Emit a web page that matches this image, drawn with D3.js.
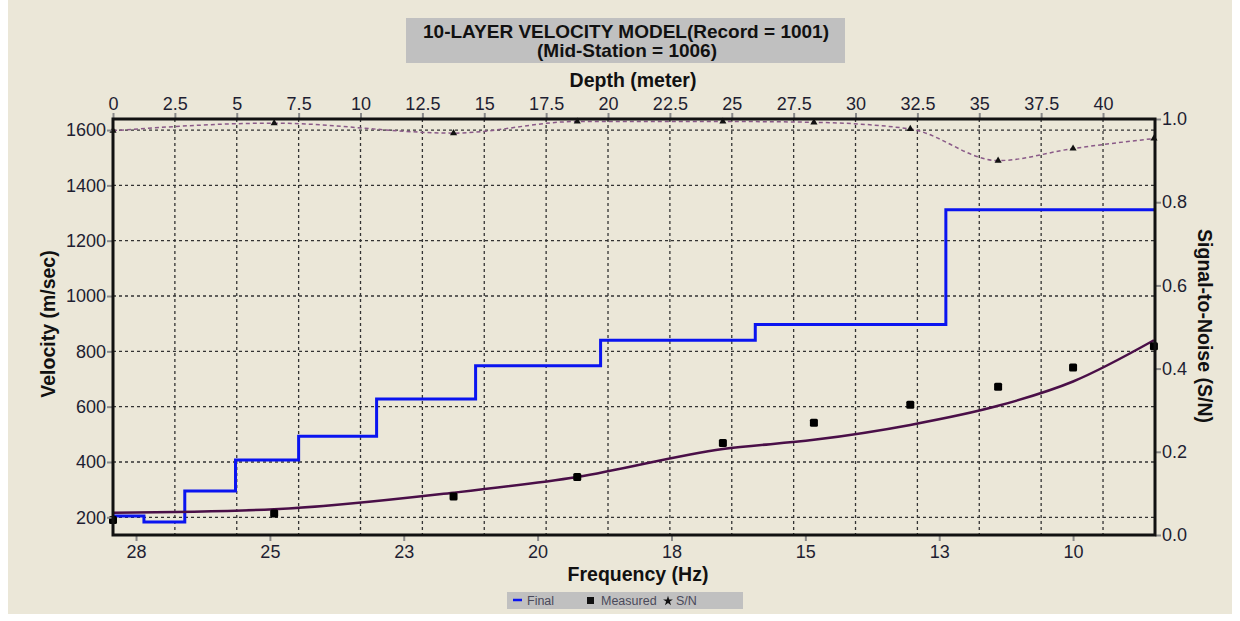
<!DOCTYPE html>
<html>
<head>
<meta charset="utf-8">
<script src="https://cdn.jsdelivr.net/npm/d3@7"></script>
<style>
  body { margin: 0; background: #ffffff; }
  svg { display: block; font-family: "Liberation Sans", Arial, sans-serif; }
</style>
</head>
<body>
<div id="chart"></div>
<script>
// layer model (top of each layer in metres, shear velocity m/s)
var layerTops = [0, 1.25, 2.9, 4.95, 7.5, 10.65, 14.65, 19.7, 25.95, 33.65];
var layerVel = [205, 183, 295, 407, 493, 628, 748, 840, 897, 1312];
var maxDepth = 42.1;

// dispersion data, frequency in Hz
var freqs = [27.93, 24.92, 21.57, 19.26, 16.54, 14.84, 13.04, 11.40, 10.00, 8.49];
var measuredVel = [190, 214, 275, 346, 469, 542, 607, 672, 742, 818];
var finalCurveVel = [216, 229, 289, 346, 447, 480, 534, 603, 691, 840];
var snValues = [0.972, 0.990, 0.966, 0.994, 0.994, 0.992, 0.976, 0.900, 0.929, 0.953];

// tick labels
var depthTicks = [0, 2.5, 5, 7.5, 10, 12.5, 15, 17.5, 20, 22.5, 25, 27.5, 30, 32.5, 35, 37.5, 40];
var freqTicks = [27.5, 25, 22.5, 20, 17.5, 15, 12.5, 10];
var freqTickLabels = ["28", "25", "23", "20", "18", "15", "13", "10"];
var velTicks = [200, 400, 600, 800, 1000, 1200, 1400, 1600];
var snTicks = [0, 0.2, 0.4, 0.6, 0.8, 1.0];

function drawChart() {
    var svgWidth = 1240, svgHeight = 621;
    var pLeft = 113, pRight = 1155, pTop = 119, pBottom = 535;

    var svg = d3.select("#chart").append("svg")
        .attr("width", svgWidth)
        .attr("height", svgHeight);

    // background panel
    svg.append("rect")
        .attr("x", 8).attr("y", 0)
        .attr("width", svgWidth - 16).attr("height", 614)
        .attr("fill", "#ebe7d8");

    // scales
    var xDepth = d3.scaleLinear().domain([0, maxDepth]).range([pLeft, pRight]);
    var xFreq = d3.scaleLinear().domain([27.93, 8.47]).range([pLeft, pRight]);
    var yVel = d3.scaleLinear().domain([136, 1640]).range([pBottom, pTop]);
    var ySN = d3.scaleLinear().domain([0, 1]).range([pBottom, pTop]);

    // grid
    var grid = svg.append("g");
    grid.selectAll("line.h")
        .data(velTicks)
        .enter().append("line")
        .attr("x1", pLeft).attr("x2", pRight)
        .attr("y1", d => yVel(d)).attr("y2", d => yVel(d))
        .attr("stroke", "#333").attr("stroke-width", 1.3)
        .attr("stroke-dasharray", "3,3");
    grid.selectAll("line.v")
        .data(depthTicks.slice(1))
        .enter().append("line")
        .attr("x1", d => xDepth(d)).attr("x2", d => xDepth(d))
        .attr("y1", pTop).attr("y2", pBottom)
        .attr("stroke", "#333").attr("stroke-width", 1.3)
        .attr("stroke-dasharray", "3,3");

    // blue step model
    var stepPts = [];
    layerTops.forEach(function (t, i) {
        var b = i < layerTops.length - 1 ? layerTops[i + 1] : maxDepth;
        stepPts.push([t, layerVel[i]]);
        stepPts.push([b, layerVel[i]]);
    });
    svg.append("path")
        .datum(stepPts)
        .attr("fill", "none")
        .attr("stroke", "#0a14f0")
        .attr("stroke-width", 3)
        .attr("d", d3.line().x(d => xDepth(d[0])).y(d => yVel(d[1])));

    // computed dispersion curve
    svg.append("path")
        .datum(freqs.map((f, i) => [f, finalCurveVel[i]]))
        .attr("fill", "none")
        .attr("stroke", "#4a0f48")
        .attr("stroke-width", 2.5)
        .attr("d", d3.line().curve(d3.curveMonotoneX)
            .x(d => xFreq(d[0])).y(d => yVel(d[1])));

    // measured points
    svg.selectAll("rect.meas")
        .data(freqs.map((f, i) => [f, measuredVel[i]]))
        .enter().append("rect")
        .attr("x", d => xFreq(d[0]) - 4)
        .attr("y", d => yVel(d[1]) - 4)
        .attr("width", 8).attr("height", 8)
        .attr("rx", 1.5)
        .attr("fill", "#000");

    // S/N line
    var snPts = freqs.map((f, i) => [f, snValues[i]]);
    svg.append("path")
        .datum(snPts)
        .attr("fill", "none")
        .attr("stroke", "#8a5a88")
        .attr("stroke-width", 1.5)
        .attr("stroke-dasharray", "4,3")
        .attr("d", d3.line().curve(d3.curveMonotoneX)
            .x(d => xFreq(d[0])).y(d => ySN(d[1])));
    svg.selectAll("path.sn")
        .data(snPts)
        .enter().append("path")
        .attr("transform", d => `translate(${xFreq(d[0])},${ySN(d[1])})`)
        .attr("d", d3.symbol().type(d3.symbolTriangle).size(22))
        .attr("fill", "#111");

    // axes
    var tickColor = "#8a8a8a";
    function styleAxis(g) {
        g.select(".domain").remove();
        g.selectAll(".tick line").attr("stroke", tickColor).attr("stroke-width", 2);
        g.selectAll(".tick text")
            .attr("fill", "#1e1e32")
            .style("font-size", "18px")
            .style("font-family", "Liberation Sans, Arial, sans-serif");
    }

    svg.append("g")
        .attr("transform", `translate(0,${pTop})`)
        .call(d3.axisTop(xDepth).tickValues(depthTicks).tickSize(6).tickPadding(3)
            .tickFormat(d => d3.format("~g")(d)))
        .call(styleAxis);

    svg.append("g")
        .attr("transform", `translate(0,${pBottom})`)
        .call(d3.axisBottom(xFreq).tickValues(freqTicks).tickSize(6).tickPadding(4)
            .tickFormat((d, i) => freqTickLabels[i]))
        .call(styleAxis);

    svg.append("g")
        .attr("transform", `translate(${pLeft},0)`)
        .call(d3.axisLeft(yVel).tickValues(velTicks).tickSize(6).tickPadding(1)
            .tickFormat(d3.format("d")))
        .call(styleAxis);

    svg.append("g")
        .attr("transform", `translate(${pRight},0)`)
        .call(d3.axisRight(ySN).tickValues(snTicks).tickSize(6).tickPadding(1)
            .tickFormat(d3.format(".1f")))
        .call(styleAxis);

    // frame
    svg.append("rect")
        .attr("x", pLeft).attr("y", pTop)
        .attr("width", pRight - pLeft).attr("height", pBottom - pTop)
        .attr("fill", "none")
        .attr("stroke", "#111")
        .attr("stroke-width", 3);

    // title box
    svg.append("rect")
        .attr("x", 406).attr("y", 18)
        .attr("width", 439).attr("height", 45)
        .attr("fill", "#c0c0c0");
    svg.append("text")
        .attr("x", 626).attr("y", 38)
        .attr("text-anchor", "middle")
        .style("font-size", "19px").style("font-weight", "bold")
        .attr("fill", "#111")
        .text("10-LAYER VELOCITY MODEL(Record = 1001)");
    svg.append("text")
        .attr("x", 627).attr("y", 57)
        .attr("text-anchor", "middle")
        .style("font-size", "19px").style("font-weight", "bold")
        .attr("fill", "#111")
        .text("(Mid-Station = 1006)");

    // axis titles
    svg.append("text")
        .attr("x", 633).attr("y", 87)
        .attr("text-anchor", "middle")
        .style("font-size", "19.5px").style("font-weight", "bold")
        .attr("fill", "#111")
        .text("Depth (meter)");
    svg.append("text")
        .attr("x", 638).attr("y", 581)
        .attr("text-anchor", "middle")
        .style("font-size", "19.5px").style("font-weight", "bold")
        .attr("fill", "#111")
        .text("Frequency (Hz)");
    svg.append("text")
        .attr("transform", "translate(55,324) rotate(-90)")
        .attr("text-anchor", "middle")
        .style("font-size", "19.5px").style("font-weight", "bold")
        .attr("fill", "#111")
        .text("Velocity (m/sec)");
    svg.append("text")
        .attr("transform", "translate(1198,326) rotate(90)")
        .attr("text-anchor", "middle")
        .style("font-size", "19.5px").style("font-weight", "bold")
        .attr("fill", "#111")
        .text("Signal-to-Noise (S/N)");

    // legend
    var legend = svg.append("g");
    legend.append("rect")
        .attr("x", 507).attr("y", 592)
        .attr("width", 236).attr("height", 17)
        .attr("fill", "#c0c0c0");
    legend.append("line")
        .attr("x1", 513).attr("x2", 522).attr("y1", 600).attr("y2", 600)
        .attr("stroke", "#0a14f0").attr("stroke-width", 2.5);
    legend.append("text").attr("x", 527).attr("y", 605)
        .style("font-size", "12.5px").attr("fill", "#4a4a5a").text("Final");
    legend.append("rect")
        .attr("x", 587).attr("y", 597).attr("width", 7).attr("height", 7)
        .attr("fill", "#111");
    legend.append("text").attr("x", 601).attr("y", 605)
        .style("font-size", "12.5px").attr("fill", "#4a4a5a").text("Measured");
    legend.append("path")
        .attr("transform", "translate(668,601)")
        .attr("d", d3.symbol().type(d3.symbolStar).size(30))
        .attr("fill", "#111");
    legend.append("text").attr("x", 676).attr("y", 605)
        .style("font-size", "12.5px").attr("fill", "#4a4a5a").text("S/N");
}
drawChart();
</script>
</body>
</html>
